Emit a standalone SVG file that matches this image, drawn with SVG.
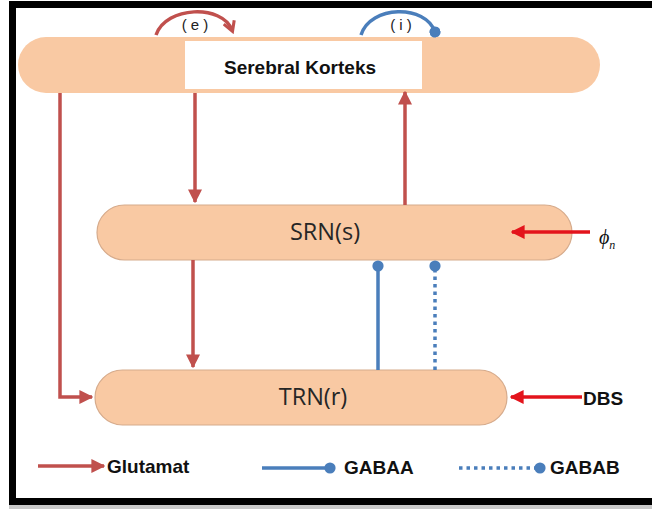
<svg xmlns="http://www.w3.org/2000/svg" width="652" height="509" viewBox="0 0 652 509">
<defs>
<style>
.pill{fill:#f9c9a3;stroke:#d6ab8c;stroke-width:1.2}
.glu{stroke:#c0504d;stroke-width:3.5;fill:none}
.red{stroke:#e3141c;stroke-width:3.5;fill:none}
.gaba{stroke:#4a7ebb;stroke-width:3.5;fill:none}
.lbl{font-family:"Open Sans",sans-serif;font-size:23.5px;fill:#262626;text-anchor:middle}
.bold{font-family:"Liberation Sans",Arial,sans-serif;font-weight:bold;font-size:19px;fill:#111}
</style>
<marker id="ag" viewBox="0 0 10 10" refX="9" refY="5" markerWidth="4" markerHeight="4" orient="auto" markerUnits="strokeWidth"><path d="M0,0 L10,5 L0,10 z" fill="#c0504d"/></marker>
<marker id="ar" viewBox="0 0 10 10" refX="9" refY="5" markerWidth="4" markerHeight="4" orient="auto" markerUnits="strokeWidth"><path d="M0,0 L10,5 L0,10 z" fill="#e3141c"/></marker>
<marker id="ae" viewBox="0 0 10 10" refX="7" refY="5" markerWidth="4" markerHeight="4" orient="auto" markerUnits="strokeWidth"><path d="M1,1 L8,5 L1,9" fill="none" stroke="#c0504d" stroke-width="2.2"/></marker>
<marker id="dot" viewBox="0 0 10 10" refX="5" refY="5" markerWidth="3.2" markerHeight="3.2" orient="auto" markerUnits="strokeWidth"><circle cx="5" cy="5" r="5" fill="#4a7ebb"/></marker>
</defs>
<rect x="0" y="0" width="652" height="509" fill="#fff"/>
<rect x="9" y="505" width="643" height="4" fill="#c8c8c8"/>
<path d="M9,1 H652 V505 H9 Z M16,8 V498 H652 V8 Z" fill="#000" fill-rule="evenodd"/>

<g id="cortex">
<rect x="18" y="37" width="582" height="56" rx="28" fill="#f9c9a3"/>
<rect x="185" y="41" width="237" height="48" fill="#fff"/>
<text x="300" y="74" class="bold" font-size="21" text-anchor="middle">Serebral Korteks</text>
</g>
<g id="srn">
<rect x="97" y="205" width="475" height="55" rx="27.5" class="pill"/>
<text x="325" y="240" class="lbl">SRN(s)</text>
</g>
<g id="trn">
<rect x="95" y="370" width="412" height="55" rx="27.5" class="pill"/>
<text x="313" y="405" class="lbl">TRN(r)</text>
</g>

<g id="connectors">
<path class="glu" d="M156,35 C166,6 222,4 232,30" marker-end="url(#ae)"/>
<path class="gaba" d="M361,35 C370,5 426,4 435,32" marker-end="url(#dot)"/>
<path class="glu" d="M60,93 V397 H92" marker-end="url(#ag)"/>
<path class="glu" d="M195,93 V202" marker-end="url(#ag)"/>
<path class="glu" d="M405,205 V92" marker-end="url(#ag)"/>
<path class="glu" d="M193,260 V367" marker-end="url(#ag)"/>
<path class="gaba" d="M378,370 V266" marker-end="url(#dot)"/>
<path class="gaba" d="M435,370 V266" stroke-dasharray="3.5 4" marker-end="url(#dot)"/>
<path class="red" d="M590,232 H512" marker-end="url(#ar)"/>
<path class="red" d="M582,397 H511" marker-end="url(#ar)"/>
<path class="glu" d="M38,466 H104" marker-end="url(#ag)"/>
<path class="gaba" d="M262,468 H330" marker-end="url(#dot)"/>
<path class="gaba" d="M459,468 H540" stroke-dasharray="3.5 4" marker-end="url(#dot)"/>
</g>

<g id="labels">
<text x="197" y="30" font-family="'Liberation Sans',Arial,sans-serif" font-size="15" letter-spacing="4" fill="#222" text-anchor="middle">(e)</text>
<text x="403" y="30" font-family="'Liberation Sans',Arial,sans-serif" font-size="15" letter-spacing="4" fill="#222" text-anchor="middle">(i)</text>
<text x="599" y="244" font-family="'Liberation Serif',serif" font-style="italic" font-size="20" fill="#111">ϕ<tspan font-size="12" dy="5">n</tspan></text>
<text x="583" y="405" class="bold" font-size="18.5">DBS</text>
<text x="107" y="473" class="bold" font-size="21">Glutamat</text>
<text x="344" y="474" class="bold">GABAA</text>
<text x="550" y="474" class="bold">GABAB</text>
</g>
</svg>
